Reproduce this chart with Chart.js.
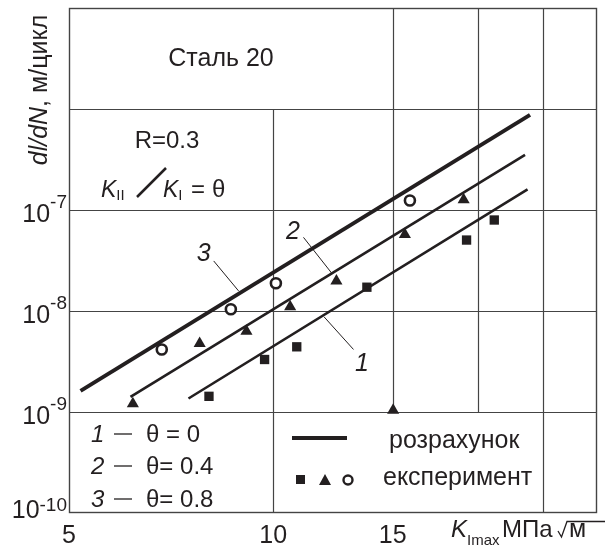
<!DOCTYPE html>
<html>
<head>
<meta charset="utf-8">
<script src="https://cdn.jsdelivr.net/npm/chart.js@4.4.1/dist/chart.umd.min.js"></script>
<style>
  html, body { margin: 0; padding: 0; background: #fff; }
  #wrap { width: 605px; height: 546px; }
</style>
</head>
<body>
<div id="wrap"><canvas id="chart" width="605" height="546"></canvas></div>
<script>
// tick labels
const xTickVals = [5, 10, 15];
const yTickExps = [-7, -8, -9, -10];

// calculated curves (розрахунок), K in MPa*sqrt(m), dl/dN in m/cycle
const calc1K = [7.5, 23.7];
const calc1V = [1.36e-9, 1.6e-7];
const calc2K = [6.16, 23.5];
const calc2V = [1.41e-9, 3.51e-7];
const calc3K = [5.2, 23.9];
const calc3V = [1.62e-9, 8.74e-7];

// experiment points (експеримент)
const exp1K = [8.04, 9.71, 10.83, 13.74, 19.27, 21.17];
const exp1V = [1.43e-9, 3.31e-9, 4.42e-9, 1.72e-8, 5.04e-8, 7.96e-8];
const exp2K = [6.21, 7.79, 9.13, 10.59, 12.39, 15.02, 15.63, 19.08];
const exp2V = [1.21e-9, 4.77e-9, 6.31e-9, 1.1e-8, 1.98e-8, 1.04e-9, 5.73e-8, 1.26e-7];
const exp3K = [6.85, 8.66, 10.09, 15.9];
const exp3V = [4.16e-9, 1.04e-8, 1.88e-8, 1.24e-7];

const INK = '#231f20';
const GRID = '#444';
const FONT = '"Liberation Sans", Arial, sans-serif';

const pts = (xs, ys) => xs.map((x, i) => ({ x: x, y: ys[i] }));

// grid pieces of the original drawing (some lines stop at text boxes)
const gridV = [
  { x: 10, from: 1e-10, to: 1e-6 },
  { x: 15, from: 1e-9, to: 1e-5 },
  { x: 20, from: 1e-9, to: 1e-5 },
  { x: 25, from: 1e-10, to: 1e-5 }
];
const gridH = [1e-6, 1e-7, 1e-8, 1e-9];

// curve numbers with leader lines, in data units
const curveNotes = [
  { text: '1', at: [13.51, 3.14e-9], from: [11.88, 8.76e-9], to: [13.13, 4.16e-9] },
  { text: '2', at: [10.69, 6.34e-8], from: [11.08, 5.36e-8], to: [12.2, 2.36e-8] },
  { text: '3', at: [7.9, 3.84e-8], from: [8.17, 3.13e-8], to: [8.89, 1.58e-8] }
];

function runs(ctx, x, y, parts, align) {
  let w = 0;
  parts.forEach(p => { ctx.font = p.font; p.w = ctx.measureText(p.t).width; w += p.w + (p.gap || 0); });
  let cx = align === 'right' ? x - w : align === 'center' ? x - w / 2 : x;
  parts.forEach(p => {
    ctx.font = p.font;
    ctx.fillText(p.t, cx, y + (p.dy || 0));
    cx += p.w + (p.gap || 0);
  });
}

function seg(ctx, x1, y1, x2, y2, w) {
  ctx.lineWidth = w;
  ctx.beginPath();
  ctx.moveTo(x1, y1);
  ctx.lineTo(x2, y2);
  ctx.stroke();
}

const decor = {
  id: 'decor',
  beforeDatasetsDraw(chart) {
    const { ctx, chartArea: a, scales: { x, y } } = chart;
    ctx.save();
    ctx.strokeStyle = GRID;
    ctx.lineCap = 'butt';
    gridH.forEach(v => {
      const py = Math.round(y.getPixelForValue(v)) + 0.5;
      seg(ctx, a.left, py, a.right, py, 1.2);
    });
    gridV.forEach(g => {
      const px = Math.round(x.getPixelForValue(g.x)) + 0.5;
      seg(ctx, px, y.getPixelForValue(g.from), px, y.getPixelForValue(g.to), 1.2);
    });
    ctx.lineWidth = 1.4;
    ctx.strokeRect(a.left + 0.5, a.top + 0.5, a.right - a.left - 1, a.bottom - a.top - 1);
    ctx.restore();
  },
  afterDatasetsDraw(chart) {
    const { ctx, scales: { x, y } } = chart;
    ctx.save();
    ctx.fillStyle = INK;
    ctx.strokeStyle = INK;
    ctx.textBaseline = 'alphabetic';

    // y tick labels 10^n
    yTickExps.forEach(e => {
      const py = y.getPixelForValue(Math.pow(10, e));
      const last = e === yTickExps[yTickExps.length - 1];
      runs(ctx, 67, last ? py + 5 : py + 12, [
        { t: '10', font: '25px ' + FONT },
        { t: String(e), font: '19px ' + FONT, dy: last ? -7 : -14 }
      ], 'right');
    });

    // y axis title
    ctx.save();
    ctx.translate(47, 90);
    ctx.rotate(-Math.PI / 2);
    runs(ctx, 0, 0, [
      { t: 'dl/dN', font: 'italic 25px ' + FONT },
      { t: ', м/цикл', font: '25px ' + FONT }
    ], 'center');
    ctx.restore();

    // x axis title
    ctx.font = 'italic 24px ' + FONT;
    ctx.fillText('K', 451, 537);
    ctx.font = '15px ' + FONT;
    ctx.fillText('Imax', 467, 545);
    ctx.font = '24px ' + FONT;
    ctx.fillText('МПа', 502, 537);
    ctx.lineWidth = 1.3;
    ctx.beginPath();
    ctx.moveTo(558, 531);
    ctx.lineTo(561.5, 537);
    ctx.lineTo(567, 521.5);
    ctx.lineTo(605, 521.5);
    ctx.stroke();
    ctx.font = '25px ' + FONT;
    ctx.fillText('м', 569, 537);

    // material and loading notes
    ctx.textAlign = 'center';
    ctx.font = '25px ' + FONT;
    ctx.fillText('Сталь 20', 221, 66);
    ctx.font = '24px ' + FONT;
    ctx.fillText('R=0.3', 167, 148);
    ctx.textAlign = 'left';
    runs(ctx, 101, 197, [
      { t: 'K', font: 'italic 23px ' + FONT },
      { t: 'II', font: '15px ' + FONT, dy: 3 }
    ], 'left');
    runs(ctx, 163, 197, [
      { t: 'K', font: 'italic 23px ' + FONT },
      { t: 'I', font: '15px ' + FONT, dy: 3 }
    ], 'left');
    seg(ctx, 137, 197, 166, 168, 2.5);
    ctx.font = '24px ' + FONT;
    ctx.fillText('=', 191, 197);
    ctx.fillText('θ', 212, 197);

    // curve numbers
    ctx.textAlign = 'center';
    ctx.font = 'italic 25px ' + FONT;
    curveNotes.forEach(n => {
      const lx = x.getPixelForValue(n.at[0]);
      const ly = y.getPixelForValue(n.at[1]);
      ctx.fillText(n.text, lx, ly + 9);
      seg(ctx, x.getPixelForValue(n.from[0]), y.getPixelForValue(n.from[1]),
        x.getPixelForValue(n.to[0]), y.getPixelForValue(n.to[1]), 1);
    });

    // theta legend
    ctx.textAlign = 'left';
    const rows = [['1', 'θ = 0', 442], ['2', 'θ= 0.4', 474], ['3', 'θ= 0.8', 507]];
    rows.forEach(r => {
      ctx.font = 'italic 24px ' + FONT;
      ctx.fillText(r[0], 91, r[2]);
      seg(ctx, 114, r[2] - 8, 132, r[2] - 8, 1.3);
      ctx.font = '24px ' + FONT;
      ctx.fillText(r[1], 146, r[2]);
    });

    // line / marker legend
    seg(ctx, 292, 438, 347, 438, 4);
    ctx.font = '25px ' + FONT;
    ctx.fillText('розрахунок', 389, 448);
    ctx.fillText('експеримент', 383, 485);
    ctx.fillRect(296, 475, 9, 9);
    ctx.beginPath();
    ctx.moveTo(325, 474);
    ctx.lineTo(331, 485);
    ctx.lineTo(319, 485);
    ctx.closePath();
    ctx.fill();
    ctx.lineWidth = 2.4;
    ctx.beginPath();
    ctx.arc(348, 480, 4.5, 0, Math.PI * 2);
    ctx.stroke();
    ctx.restore();
  }
};

const lineDs = (k, v, w) => ({
  data: pts(k, v), showLine: true, borderColor: INK, borderWidth: w,
  pointRadius: 0, borderCapStyle: 'butt', tension: 0
});
const markDs = (k, v, style, r, fill, bw) => ({
  data: pts(k, v), showLine: false, pointStyle: style, pointRadius: r,
  backgroundColor: fill, borderColor: INK, borderWidth: bw
});

new Chart(document.getElementById('chart'), {
  type: 'scatter',
  data: {
    datasets: [
      lineDs(calc1K, calc1V, 2.6),
      lineDs(calc2K, calc2V, 2.6),
      lineDs(calc3K, calc3V, 4),
      markDs(exp1K, exp1V, 'rect', 6.6, INK, 0),
      markDs(exp2K, exp2V, 'triangle', 7, INK, 0),
      markDs(exp3K, exp3V, 'circle', 5, '#fff', 2.6)
    ]
  },
  options: {
    responsive: false,
    animation: false,
    devicePixelRatio: 1,
    layout: { padding: { top: 8, right: 8, left: 0, bottom: 0 } },
    plugins: { legend: { display: false }, tooltip: { enabled: false } },
    scales: {
      x: {
        type: 'logarithmic', min: 5, max: 30,
        grid: { display: false }, border: { display: false },
        afterBuildTicks: s => { s.ticks = xTickVals.map(v => ({ value: v })); },
        afterFit: s => { s.height = 33; },
        ticks: {
          autoSkip: false, maxRotation: 0, padding: 0, color: INK,
          font: { family: FONT, size: 25 },
          callback: v => String(v)
        }
      },
      y: {
        type: 'logarithmic', min: 1e-10, max: 1e-5,
        grid: { display: false }, border: { display: false },
        ticks: { display: false },
        afterFit: s => { s.width = 69; }
      }
    }
  },
  plugins: [decor]
});
</script>
</body>
</html>
